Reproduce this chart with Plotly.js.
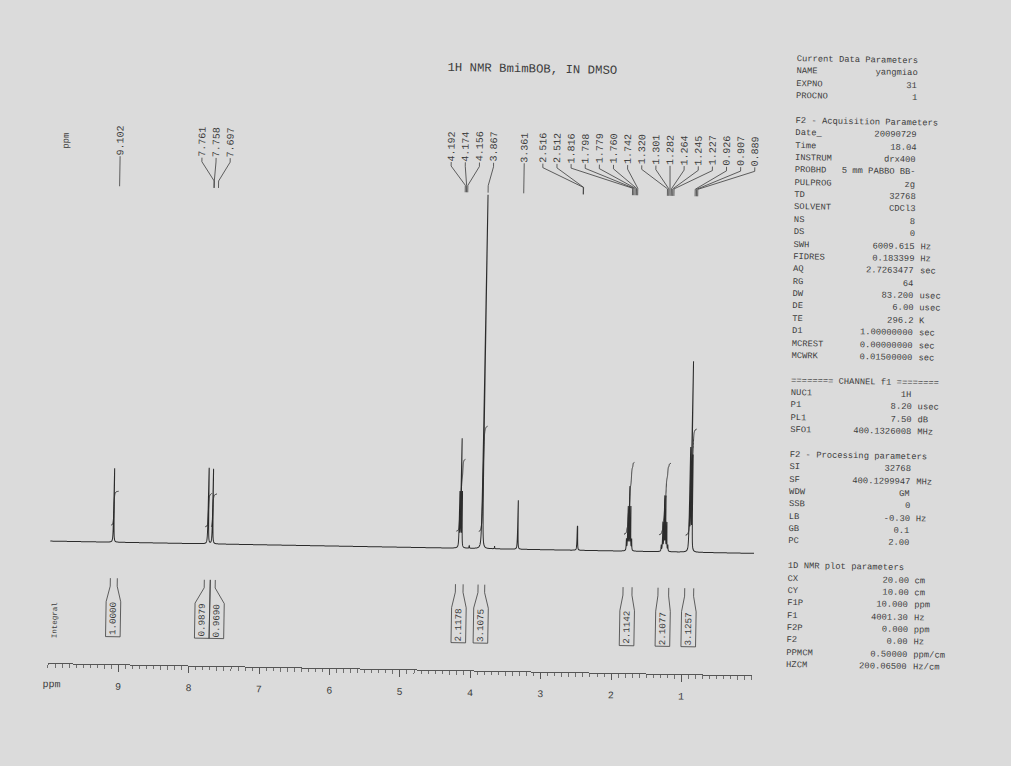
<!DOCTYPE html>
<html><head><meta charset="utf-8">
<script src="https://cdn.plot.ly/plotly-3.0.1.min.js"></script>
<style>
html,body{margin:0;padding:0;background:#dbdbdb;overflow:hidden;width:1011px;height:766px;}
#chart{width:1011px;height:766px;transform:rotate(1deg);transform-origin:505px 383px;}
</style></head><body><div id="chart"></div>
<script>
// ---------------- data ----------------
const titleText = "1H NMR BmimBOB, IN DMSO";
const peakPpm    = [9.102, 7.761, 7.758, 7.697, 4.192, 4.174, 4.156, 3.867, 3.361, 2.516, 2.512,
                    1.816, 1.798, 1.779, 1.760, 1.742, 1.320, 1.301, 1.282, 1.264, 1.245, 1.227,
                    0.926, 0.907, 0.889];
const peakHeight = [74, 47.5, 47.5, 75, 54, 107, 54, 354, 49, 17.3, 17.3,
                    11, 43, 63, 43, 11, 6, 28, 54, 54, 28, 6,
                    100, 186, 92];
const minorPpm    = [4.047, 3.687];
const minorHeight = [2.5, 2.5];
const intFrom  = [9.136, 7.801, 7.716, 4.233, 3.912, 1.852, 1.355, 0.976];
const intTo    = [9.037, 7.716, 7.645, 4.124, 3.817, 1.724, 1.203, 0.848];
const intValue = [1.0000, 0.9879, 0.9690, 2.1178, 3.1075, 2.1142, 2.1077, 3.1257];
const tickVals = [9, 8, 7, 6, 5, 4, 3, 2, 1];
const paramLines = [
 ["Current Data Parameters"], ["NAME","yangmiao"], ["EXPNO","31"], ["PROCNO","1"], [],
 ["F2 - Acquisition Parameters"], ["Date_","20090729"], ["Time","18.04"], ["INSTRUM","drx400"],
 ["PROBHD","5 mm PABBO BB-"], ["PULPROG","zg"], ["TD","32768"], ["SOLVENT","CDCl3"],
 ["NS","8"], ["DS","0"], ["SWH","6009.615","Hz"], ["FIDRES","0.183399","Hz"],
 ["AQ","2.7263477","sec"], ["RG","64"], ["DW","83.200","usec"], ["DE","6.00","usec"],
 ["TE","296.2","K"], ["D1","1.00000000","sec"], ["MCREST","0.00000000","sec"],
 ["MCWRK","0.01500000","sec"], [],
 ["======== CHANNEL f1 ========"], ["NUC1","1H"], ["P1","8.20","usec"], ["PL1","7.50","dB"],
 ["SFO1","400.1326008","MHz"], [],
 ["F2 - Processing parameters"], ["SI","32768"], ["SF","400.1299947","MHz"], ["WDW","GM"],
 ["SSB","0"], ["LB","-0.30","Hz"], ["GB","0.1"], ["PC","2.00"], [],
 ["1D NMR plot parameters"], ["CX","20.00","cm"], ["CY","10.00","cm"], ["F1P","10.000","ppm"],
 ["F1","4001.30","Hz"], ["F2P","0.000","ppm"], ["F2","0.00","Hz"], ["PPMCM","0.50000","ppm/cm"],
 ["HZCM","200.06500","Hz/cm"]
];

// ---------------- layout geometry (pixels) ----------------
const W = 1011, H = 766;
const X0 = 53, X1 = 757;           // 10 ppm .. 0 ppm
const PPM_HI = 10, PPM_LO = 0;
const BASE_Y = 549;                // baseline pixel row
const pxPerPpm = (X1 - X0) / (PPM_HI - PPM_LO);
const ppmToPx = p => X0 + (PPM_HI - p) * pxPerPpm;
const pxToPpm = x => PPM_HI - (x - X0) / pxPerPpm;
const pyToY = y => BASE_Y - y;     // data y (intensity units) of a pixel row
const INK = '#3d3d3d';
const LINE = '#2c2c2c';
const MONO = 'Liberation Mono, DejaVu Sans Mono, monospace';

// ---------------- spectrum (Lorentzian lines from the peak table) ----------------
const HW = 0.003;
const allP = peakPpm.concat(minorPpm), allH = peakHeight.concat(minorHeight);
const xsSet = new Set();
for (let i = 0; i <= 2000; i++) xsSet.add(+(10 - i * 0.005).toFixed(5));
allP.forEach(p => { for (let k = -120; k <= 120; k++) xsSet.add(+(p + k * 0.0005).toFixed(5)); });
const grid = Array.from(xsSet).filter(x => x >= 0 && x <= 10).sort((a, b) => b - a);
const spec = grid.map(x => { let s = 0; for (let i = 0; i < allP.length; i++) { const d = (x - allP[i]) / HW; s += allH[i] / (1 + d * d); } return s; });

// integral curves
const INT_OFF = 17, INT_SCALE = 34;
const intTraces = intFrom.map((a, r) => {
  const b = intTo[r];
  const xs = [], ys = [];
  grid.forEach((x, i) => { if (x <= a && x >= b) { xs.push(x); ys.push(spec[i]); } });
  const cum = [0];
  for (let i = 1; i < xs.length; i++) cum.push(cum[i - 1] + (ys[i] + ys[i - 1]) / 2 * (xs[i - 1] - xs[i]));
  const tot = cum[cum.length - 1] || 1;
  return { x: xs, y: cum.map(c => INT_OFF + intValue[r] * INT_SCALE * c / tot), type: 'scatter', mode: 'lines',
           line: { color: LINE, width: 0.9, simplify: false }, hoverinfo: 'skip' };
});

// ---------------- label spreading ----------------
function spread(xs, s, xmax) {
  let cl = xs.map((x, i) => ({ idx: [i], c: x }));
  let changed = true;
  while (changed) {
    changed = false;
    for (let k = 0; k < cl.length - 1; k++) {
      const A = cl[k], B = cl[k + 1];
      const aR = A.c + (A.idx.length - 1) / 2 * s, bL = B.c - (B.idx.length - 1) / 2 * s;
      if (bL - aR < s - 1e-9) {
        const idx = A.idx.concat(B.idx);
        const c = idx.reduce((t, i) => t + xs[i], 0) / idx.length;
        cl.splice(k, 2, { idx, c }); changed = true; break;
      }
    }
  }
  const last = cl[cl.length - 1];
  const lr = last.c + (last.idx.length - 1) / 2 * s;
  if (xmax !== undefined && lr > xmax) last.c -= lr - xmax;
  const out = new Array(xs.length);
  cl.forEach(C => C.idx.forEach((i, j) => { out[i] = C.c + (j - (C.idx.length - 1) / 2) * s; }));
  return out;
}

// peak labels + leaders
const peakPx = peakPpm.map(ppmToPx);
const labelPx = spread(peakPx, 14.13, 751);
const LBL_Y = 147, L_A = 163, L_B = 167, L_C = 186, L_D = 193;
const ldX = [], ldY = [];
const annotations = [];
peakPpm.forEach((p, i) => {
  [[labelPx[i], L_A], [labelPx[i], L_B], [peakPx[i], L_C], [peakPx[i], L_D]].forEach(([x, y]) => { ldX.push(pxToPpm(x)); ldY.push(pyToY(y)); });
  ldX.push(null); ldY.push(null);
  annotations.push({ x: pxToPpm(labelPx[i]), y: pyToY(LBL_Y), xref: 'x', yref: 'y', text: p.toFixed(3),
    textangle: -90, showarrow: false, xanchor: 'center', yanchor: 'middle', borderpad: 0,
    font: { family: MONO, size: 10, color: INK } });
});

// integral brackets
const intInL = intFrom.map(ppmToPx), intInR = intTo.map(ppmToPx);
const boxW = 14.6;
const boxC = spread(intInL.map((l, i) => (l + intInR[i]) / 2), boxW);
const B_TOP = 585, B_F1 = 593, B_F2 = 608.5, B_BOT = 643.5, B_TXT = 625.5;
const brX = [], brY = [];
intValue.forEach((v, i) => {
  const bl = boxC[i] - boxW / 2, br = boxC[i] + boxW / 2;
  const path = [[intInL[i], B_TOP], [intInL[i], B_F1], [bl, B_F2], [bl, B_BOT], [br, B_BOT], [br, B_F2], [intInR[i], B_F1], [intInR[i], B_TOP]];
  path.forEach(([x, y]) => { brX.push(pxToPpm(x)); brY.push(pyToY(y)); });
  brX.push(null); brY.push(null);
  annotations.push({ x: pxToPpm(boxC[i]), y: pyToY(B_TXT), xref: 'x', yref: 'y', text: v.toFixed(4),
    textangle: -90, showarrow: false, xanchor: 'center', yanchor: 'middle', borderpad: 0,
    font: { family: MONO, size: 9.2, color: INK } });
});

// free text
const pX = x => x / W, pY = y => 1 - y / H;
annotations.push({ x: pX(527), y: pY(69.5), xref: 'paper', yref: 'paper', text: titleText, showarrow: false,
  xanchor: 'center', yanchor: 'middle', font: { family: MONO, size: 12.3, color: INK } });
annotations.push({ x: pX(62.5), y: pY(149), xref: 'paper', yref: 'paper', text: 'ppm', textangle: -90, showarrow: false,
  xanchor: 'center', yanchor: 'middle', font: { family: MONO, size: 9, color: INK } });
annotations.push({ x: pX(59), y: pY(628), xref: 'paper', yref: 'paper', text: 'Integral', textangle: -90, showarrow: false,
  xanchor: 'center', yanchor: 'middle', font: { family: MONO, size: 7.5, color: INK } });
annotations.push({ x: pX(57), y: pY(692), xref: 'paper', yref: 'paper', text: 'ppm', showarrow: false,
  xanchor: 'center', yanchor: 'middle', font: { family: MONO, size: 10, color: INK } });

// parameter panel
const P_X = 790.8, P_Y0 = 54, P_DY = 12.37, CH = 5.28;
paramLines.forEach((row, i) => {
  if (!row.length) return;
  const y = pY(P_Y0 + i * P_DY);
  const f = { family: MONO, size: 8.8, color: INK };
  annotations.push({ x: pX(P_X), y, xref: 'paper', yref: 'paper', text: row[0], showarrow: false, xanchor: 'left', yanchor: 'middle', borderpad: 0, borderwidth: 0, font: f });
  if (row[1] !== undefined) annotations.push({ x: pX(P_X + 23 * CH), y, xref: 'paper', yref: 'paper', text: row[1], showarrow: false, xanchor: 'right', yanchor: 'middle', borderpad: 0, borderwidth: 0, font: f });
  if (row[2] !== undefined) annotations.push({ x: pX(P_X + 24 * CH), y, xref: 'paper', yref: 'paper', text: row[2], showarrow: false, xanchor: 'left', yanchor: 'middle', borderpad: 0, borderwidth: 0, font: f });
});

// ---------------- traces & layout ----------------
const traces = [
  { x: grid, y: spec, type: 'scatter', mode: 'lines', line: { color: LINE, width: 1, simplify: false }, hoverinfo: 'skip' },
  ...intTraces,
  { x: ldX, y: ldY, type: 'scatter', mode: 'lines', line: { color: INK, width: 0.8 }, hoverinfo: 'skip', connectgaps: false },
  { x: brX, y: brY, type: 'scatter', mode: 'lines', line: { color: INK, width: 0.8 }, hoverinfo: 'skip', connectgaps: false }
];
const AXIS_Y = 671;
const layout = {
  width: W, height: H, margin: { l: 0, r: 0, t: 0, b: 0 },
  paper_bgcolor: 'rgba(0,0,0,0)', plot_bgcolor: 'rgba(0,0,0,0)', showlegend: false,
  xaxis: { domain: [X0 / W, X1 / W], range: [PPM_HI, PPM_LO], autorange: false, anchor: 'free', position: (H - AXIS_Y) / H,
    showgrid: false, zeroline: false, showline: true, linecolor: '#555', linewidth: 1,
    ticks: 'outside', ticklen: 6.5, tickwidth: 1, tickcolor: '#555', tickvals: tickVals, ticktext: tickVals.map(String),
    tickfont: { family: MONO, size: 10, color: INK }, ticklabelstandoff: 6,
    minor: { dtick: 0.1, tick0: 0, ticks: 'outside', ticklen: 3.5, tickwidth: 0.8, tickcolor: '#555', showgrid: false },
    automargin: false, fixedrange: true },
  yaxis: { domain: [0, 1], range: [BASE_Y - H, BASE_Y], autorange: false, visible: false, fixedrange: true },
  annotations, hovermode: false
};
Plotly.newPlot('chart', traces, layout, { staticPlot: true, displayModeBar: false });
</script></body></html>
